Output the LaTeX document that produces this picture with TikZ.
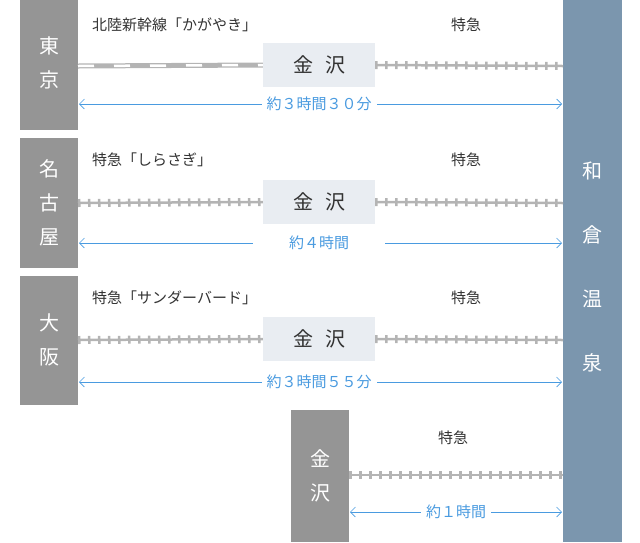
\documentclass[tikz,border=0pt]{standalone}
\usepackage{fontspec}
\setmainfont{Noto Sans CJK JP}
\usetikzlibrary{arrows.meta}
\definecolor{gbox}{HTML}{959595}
\definecolor{bbox}{HTML}{7B96AE}
\definecolor{kz}{HTML}{E9EDF2}
\definecolor{trk}{HTML}{B4B4B4}
\definecolor{blu}{HTML}{4A9BE0}
\definecolor{txt}{HTML}{333333}
\tikzset{
 city/.style={fill=none,text=white,font=\fontsize{20}{34}\selectfont,align=center,inner sep=0},
 kbox/.style={fill=kz,minimum width=112pt,minimum height=44pt,font=\fontsize{20}{20}\selectfont,text=txt},
 lbl/.style={font=\fontsize{15}{16}\selectfont,text=txt,anchor=west,inner sep=0},
 dur/.style={font=\fontsize{15}{16}\selectfont,text=blu,fill=white,inner xsep=5pt},
 track/.style={draw=trk,line width=2.5pt,postaction={draw=trk,line width=8pt,dash pattern=on 2.5pt off 7.5pt}},
 shink/.style={draw=trk,line width=5pt,postaction={draw=white,line width=2.5pt,dash pattern=on 16pt off 20pt}},
 span/.style={draw=blu,line width=0.6pt,{Straight Barb[length=5pt,width=10pt]}-{Straight Barb[length=5pt,width=10pt]}}
}
\begin{document}
\begin{tikzpicture}[x=1pt,y=-1pt]
\useasboundingbox (0,0) rectangle (640,542);
\fill[bbox] (563,0) rectangle (622,542);
\node[city,font=\fontsize{20}{64}\selectfont] (wakura) at (592.5,267) {和\\倉\\温\\泉};
% Tokyo
\fill[gbox] (20,0) rectangle (78,130);
\node[city] (tokyo) at (49,63) {東\\京};
\node[kbox] (k1) at (319,65) {金\hspace{0.6em}沢};
\coordinate (t1a) at (78,66); \coordinate (t1b) at (563,66);
\path[shink] (t1a) -- (k1.west);
\path[track] (k1.east) -- (t1b);
\node[lbl] (l1) at (92,25) {北陸新幹線「かがやき」};
\node[lbl] (e1) at (451,25) {特急};
\coordinate (a1a) at (79,104); \coordinate (a1b) at (562,104);
\draw[span] (a1a) -- (a1b);
\node[dur] (d1) at (319,104) {約３時間３０分};
% Nagoya
\fill[gbox] (20,138) rectangle (78,268);
\node[city] (nagoya) at (49,203) {名\\古\\屋};
\node[kbox] (k2) at (319,202) {金\hspace{0.6em}沢};
\coordinate (t2a) at (78,203); \coordinate (t2b) at (563,203);
\path[track] (t2a) -- (k2.west);
\path[track] (k2.east) -- (t2b);
\node[lbl] (l2) at (92,160) {特急「しらさぎ」};
\node[lbl] (e2) at (451,160) {特急};
\coordinate (a2a) at (79,243); \coordinate (a2b) at (562,243);
\draw[span] (a2a) -- (a2b);
\node[dur,inner xsep=36pt] (d2) at (319,243) {約４時間};
% Osaka
\fill[gbox] (20,276) rectangle (78,405);
\node[city] (osaka) at (49,340) {大\\阪};
\node[kbox] (k3) at (319,339) {金\hspace{0.6em}沢};
\coordinate (t3a) at (78,340); \coordinate (t3b) at (563,340);
\path[track] (t3a) -- (k3.west);
\path[track] (k3.east) -- (t3b);
\node[lbl] (l3) at (92,298) {特急「サンダーバード」};
\node[lbl] (e3) at (451,298) {特急};
\coordinate (a3a) at (79,382); \coordinate (a3b) at (562,382);
\draw[span] (a3a) -- (a3b);
\node[dur] (d3) at (319,382) {約３時間５５分};
% Kanazawa
\fill[gbox] (291,410) rectangle (349,542);
\node[city] (kana) at (320,476) {金\\沢};
\coordinate (t4a) at (349,475); \coordinate (t4b) at (563,475);
\path[track] (t4a) -- (t4b);
\node[lbl] (e4) at (438,438) {特急};
\coordinate (a4a) at (350,512); \coordinate (a4b) at (562,512);
\draw[span] (a4a) -- (a4b);
\node[dur] (d4) at (456,512) {約１時間};
\end{tikzpicture}
\end{document}
